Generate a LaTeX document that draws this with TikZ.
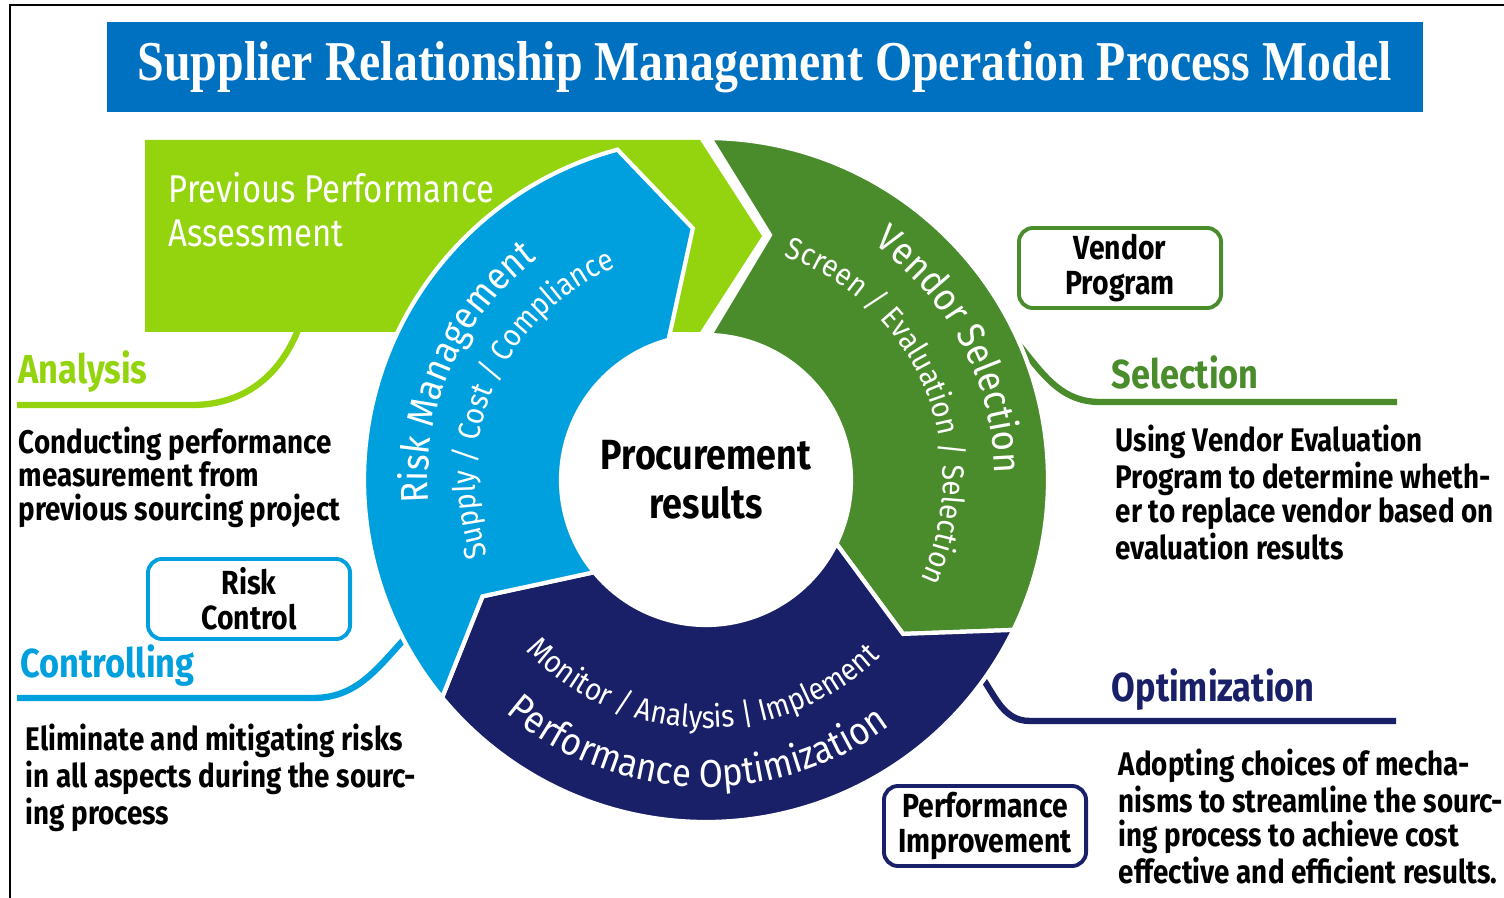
\documentclass[tikz,border=0pt]{standalone}
\usepackage{fontspec}
\setmainfont{Fira Sans}
\newfontfamily\condfont[FakeStretch=0.85]{Fira Sans}
\newfontfamily\ringfont[FakeStretch=0.9]{Fira Sans}
\newfontfamily\titlefont[FakeStretch=0.85]{Liberation Serif}
\usetikzlibrary{decorations.text}

\definecolor{titleblue}{RGB}{0,112,192}
\definecolor{limegrn}{RGB}{148,212,14}
\definecolor{vendgreen}{RGB}{74,140,44}
\definecolor{riskblue}{RGB}{0,160,222}
\definecolor{optnavy}{RGB}{26,32,104}

\newcommand\bigring{\ringfont\fontsize{11}{12}\selectfont}
\newcommand\smallring{\ringfont\fontsize{8.8}{10}\selectfont}

\begin{document}
\begin{tikzpicture}[
  x=0.01cm, y=0.01cm,
  seg/.style={fill=#1, draw=white, line width=1.2pt},
  tag/.style={draw=#1, line width=1.1pt, rounded corners=4pt, fill=white,
    minimum width=2.02cm, minimum height=0.8cm, align=center, inner sep=1pt,
    font=\condfont\bfseries\fontsize{9.5}{10}\selectfont},
  head/.style={text=#1, anchor=west, inner sep=0pt,
    font=\condfont\bfseries\fontsize{11.5}{13}\selectfont},
  desc/.style={anchor=north west, align=left, inner sep=0pt,
    font=\condfont\bfseries\fontsize{9.3}{9.6}\selectfont},
  lead/.style={draw=#1, line width=1.8pt},
  ringtext/.style={decorate, decoration={text along path, text align=center,
    text color=white, text={#1}}},
]
\useasboundingbox (0,0) rectangle (1504,-898);

%--- FRAME & TITLE ---
\draw[line width=0.6pt] (10,-898) -- (10,-5) -- (1504,-5);
\node[fill=titleblue, minimum width=13.16cm, minimum height=0.9cm, text=white,
  font=\titlefont\bfseries\fontsize{16}{18}\selectfont]
  (title) at (765,-67) {Supplier Relationship Management Operation Process Model};

%--- ASSESSMENT BANNER ---
\fill[limegrn] (145,-140) -- (700,-140) -- (762,-236) -- (700,-332) -- (145,-332) -- cycle;
\node[anchor=north west, align=left, text=white, inner sep=0pt,
  font=\condfont\fontsize{11}{12.5}\selectfont]
  (prev) at (168,-172) {Previous Performance\\Assessment};

%--- LEADER CURVES ---
\coordinate (anaA) at (298,-330);
\coordinate (ctlA) at (415,-628);
\coordinate (selA) at (1015,-340);
\coordinate (optA) at (975,-668);
\draw[lead=limegrn]  (anaA) to[out=-112, in=0] (192,-405) -- (17,-405);
\draw[lead=riskblue] (ctlA) to[out=-135, in=0] (313,-698) -- (17,-698);
\draw[lead=vendgreen] (selA) to[out=-50, in=180] (1100,-402) -- (1397,-402);
\draw[lead=optnavy]  (optA) to[out=-50, in=180] (1030,-721) -- (1396,-721);

%--- RING ---
\begin{scope}[shift={(706,-480)}]
  \path[seg=vendgreen] (89.3:342) arc[start angle=89.3, end angle=-26, radius=342]
    -- (-38:250) -- (-26:145) arc[start angle=-26, end angle=88.4, radius=145]
    -- (64,245) -- cycle;
  \path[seg=optnavy] (-26:342) arc[start angle=-26, end angle=-140.5, radius=342]
    -- (-152.5:252) -- (-140.5:145) arc[start angle=-140.5, end angle=-26, radius=145]
    -- (-38:250) -- cycle;
  \path[seg=riskblue] (219.5:342) arc[start angle=219.5, end angle=105, radius=342]
    -- (93:252) -- (105:145) arc[start angle=105, end angle=219.5, radius=145]
    -- (207.5:252) -- cycle;

  \node[circle, fill=white, minimum size=2.9cm, align=center,
    font=\condfont\bfseries\fontsize{12}{14}\selectfont] (core) at (0,0)
    {Procurement\\results};

  % texts round the ring
  \path[ringtext={|\bigring|Risk Management}]
    (205:278) arc[start angle=205, end angle=107, radius=278];
  \path[ringtext={|\smallring|Supply / Cost / Compliance}]
    (210:231) arc[start angle=210, end angle=102, radius=231];
  \path[ringtext={|\bigring|Vendor Selection}]
    (80:289) arc[start angle=80, end angle=-24, radius=289];
  \path[ringtext={|\smallring|Screen / Evaluation / Selection}]
    (78:237) arc[start angle=78, end angle=-32, radius=237];
  \path[ringtext={|\bigring|Performance Optimization}]
    (210:307) arc[start angle=210, end angle=326, radius=307];
  \path[ringtext={|\smallring|Monitor / Analysis {\textbar} Implement}]
    (214:248) arc[start angle=214, end angle=324, radius=248];
\end{scope}

%--- SIDE LABELS ---
\node[head=limegrn]   (ana) at (18,-372)   {Analysis};
\node[head=riskblue]  (ctl) at (20,-666)   {Controlling};
\node[head=vendgreen] (sel) at (1111,-372) {Selection};
\node[head=optnavy]   (opt) at (1111,-690) {Optimization};

\node[desc] (anaD) at (18,-426)
  {Conducting performance\\measurement from\\previous sourcing project};
\node[desc] (ctlD) at (25,-723)
  {Eliminate and mitigating risks\\in all aspects during the sourc-\\ing process};
\node[desc] (selD) at (1115,-424)
  {Using Vendor Evaluation\\Program to determine wheth-\\er to replace vendor based on\\evaluation results};
\node[desc] (optD) at (1118,-748)
  {Adopting choices of mecha-\\nisms to streamline the sourc-\\ing process to achieve cost\\effective and efficient results.};

%--- TAG BOXES ---
\node[tag=vendgreen] (vprog) at (1120,-268) {Vendor\\Program};
\node[tag=riskblue]  (rctl)  at (249,-599)  {Risk\\Control};
\node[tag=optnavy]   (pimp)  at (985,-826)  {Performance\\Improvement};
\end{tikzpicture}
\end{document}
